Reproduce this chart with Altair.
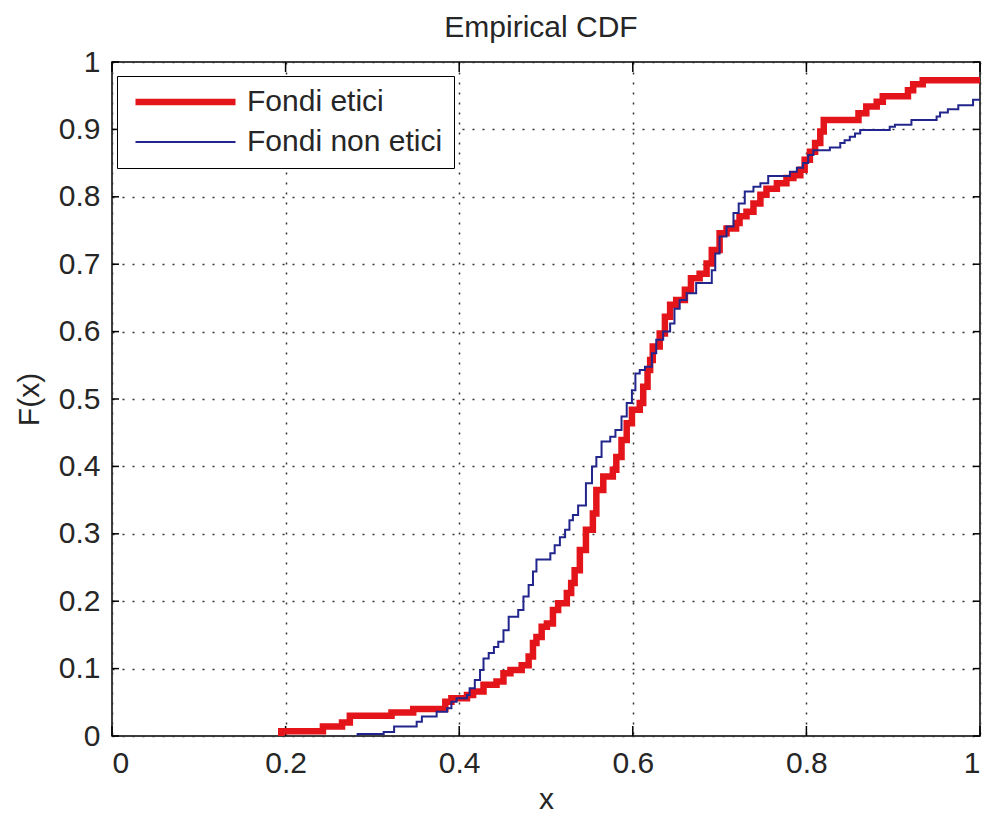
import altair as alt
import pandas as pd

# Step points of the two empirical CDFs: x where the step occurs, F(x) after the step
etici_x = [0.195, 0.195, 0.243, 0.265, 0.274, 0.322, 0.347, 0.384, 0.391, 0.409,
           0.416, 0.428, 0.443, 0.451, 0.459, 0.472, 0.480, 0.485, 0.489, 0.495,
           0.501, 0.508, 0.514, 0.524, 0.529, 0.533, 0.539, 0.546, 0.554, 0.558,
           0.566, 0.577, 0.581, 0.587, 0.593, 0.599, 0.608, 0.612, 0.617, 0.620,
           0.623, 0.631, 0.637, 0.643, 0.650, 0.660, 0.667, 0.677, 0.685, 0.691,
           0.700, 0.708, 0.719, 0.723, 0.731, 0.739, 0.747, 0.754, 0.766, 0.777,
           0.785, 0.793, 0.798, 0.804, 0.810, 0.816, 0.820, 0.860, 0.869, 0.881,
           0.888, 0.917, 0.923, 0.934, 1.000]
etici_f = [0.000, 0.007, 0.014, 0.020, 0.030, 0.035, 0.040, 0.051, 0.056, 0.061,
           0.066, 0.076, 0.081, 0.093, 0.098, 0.105, 0.118, 0.138, 0.147, 0.162,
           0.167, 0.187, 0.197, 0.212, 0.227, 0.246, 0.276, 0.306, 0.330, 0.365,
           0.385, 0.395, 0.414, 0.439, 0.464, 0.484, 0.494, 0.518, 0.543, 0.558,
           0.578, 0.597, 0.622, 0.640, 0.647, 0.662, 0.679, 0.686, 0.701, 0.721,
           0.746, 0.753, 0.761, 0.771, 0.778, 0.790, 0.803, 0.812, 0.820, 0.828,
           0.832, 0.840, 0.855, 0.867, 0.880, 0.897, 0.914, 0.924, 0.934, 0.941,
           0.949, 0.958, 0.967, 0.973, 0.973]

non_etici_x = [0.283, 0.283, 0.313, 0.325, 0.351, 0.357, 0.374, 0.386, 0.391, 0.397,
               0.409, 0.412, 0.418, 0.424, 0.428, 0.434, 0.440, 0.445, 0.451, 0.457,
               0.468, 0.474, 0.480, 0.485, 0.489, 0.505, 0.510, 0.516, 0.522, 0.527,
               0.531, 0.537, 0.546, 0.553, 0.558, 0.564, 0.574, 0.580, 0.587, 0.593,
               0.599, 0.603, 0.608, 0.614, 0.622, 0.627, 0.635, 0.643, 0.648, 0.654,
               0.662, 0.673, 0.691, 0.695, 0.700, 0.708, 0.716, 0.722, 0.729, 0.739,
               0.747, 0.756, 0.781, 0.789, 0.796, 0.802, 0.808, 0.827, 0.839, 0.844,
               0.850, 0.856, 0.862, 0.896, 0.902, 0.921, 0.950, 0.954, 0.963, 0.975,
               0.992, 1.000]
non_etici_f = [0.000, 0.003, 0.006, 0.014, 0.021, 0.029, 0.036, 0.041, 0.051, 0.056,
               0.061, 0.071, 0.083, 0.098, 0.115, 0.123, 0.132, 0.140, 0.157, 0.177,
               0.187, 0.207, 0.224, 0.244, 0.262, 0.271, 0.283, 0.295, 0.306, 0.320,
               0.328, 0.342, 0.375, 0.400, 0.414, 0.437, 0.444, 0.454, 0.474, 0.494,
               0.513, 0.538, 0.543, 0.548, 0.568, 0.588, 0.600, 0.612, 0.634, 0.647,
               0.657, 0.672, 0.691, 0.716, 0.741, 0.756, 0.776, 0.790, 0.808, 0.815,
               0.820, 0.831, 0.837, 0.843, 0.850, 0.862, 0.869, 0.873, 0.880, 0.884,
               0.889, 0.894, 0.899, 0.904, 0.907, 0.914, 0.919, 0.925, 0.930, 0.936,
               0.944, 0.944]

series_names = ["Fondi etici", "Fondi non etici"]
series_colors = ["#e3141a", "#22268c"]
series_widths = [6.5, 2.0]

x_ticks = [0, 0.2, 0.4, 0.6, 0.8, 1]
y_ticks = [0, 0.1, 0.2, 0.3, 0.4, 0.5, 0.6, 0.7, 0.8, 0.9, 1]
chart_title = "Empirical CDF"

FONT = "Liberation Sans"
TEXT = "#262626"
W, H = 868, 674

frames = []
for name, xs, fs in [(series_names[0], etici_x, etici_f),
                     (series_names[1], non_etici_x, non_etici_f)]:
    frames.append(pd.DataFrame({"x": xs, "F": fs, "serie": name,
                                "ord": range(len(xs))}))
df = pd.concat(frames, ignore_index=True)

x_scale = alt.Scale(domain=[0, 1], nice=False, zero=False)
y_scale = alt.Scale(domain=[0, 1], nice=False, zero=False)

legend = alt.Legend(
    orient="none", legendX=5, legendY=14, title=None,
    symbolType="stroke", symbolSize=10000, symbolOffset=4,
    labelFont=FONT, labelFontSize=30, labelColor=TEXT, labelOffset=8,
    labelLimit=0, clipHeight=30,
    strokeColor="black", fillColor="white", padding=11, rowPadding=10,
    cornerRadius=0,
)

lines = alt.Chart(df).mark_line(interpolate="step-after", clip=True).encode(
    x=alt.X("x:Q", scale=x_scale,
            axis=alt.Axis(values=x_ticks, format="~g", labelPadding=12,
                          title="x", titleY=72, titleBaseline="alphabetic")),
    y=alt.Y("F:Q", scale=y_scale,
            axis=alt.Axis(values=y_ticks, format="~g", labelPadding=12,
                          title="F(x)", titleX=-74, titleY=H / 2,
                          titleBaseline="alphabetic", titleAlign="center")),
    color=alt.Color("serie:N",
                    scale=alt.Scale(domain=series_names, range=series_colors),
                    legend=legend),
    strokeWidth=alt.StrokeWidth("serie:N",
                                scale=alt.Scale(domain=series_names, range=series_widths),
                                legend=legend),
    order=alt.Order("ord:Q"),
)

# Inward tick marks on all four sides of the box
xt = pd.DataFrame({"v": x_ticks})
yt = pd.DataFrame({"v": y_ticks})
tick_style = dict(color="black", strokeWidth=1.5)
bottom_ticks = alt.Chart(xt).mark_rule(**tick_style).encode(
    x=alt.X("v:Q", scale=x_scale), y=alt.value(H), y2=alt.value(H - 10))
top_ticks = alt.Chart(xt).mark_rule(**tick_style).encode(
    x=alt.X("v:Q", scale=x_scale), y=alt.value(0), y2=alt.value(10))
left_ticks = alt.Chart(yt).mark_rule(**tick_style).encode(
    y=alt.Y("v:Q", scale=y_scale), x=alt.value(0), x2=alt.value(7))
right_ticks = alt.Chart(yt).mark_rule(**tick_style).encode(
    y=alt.Y("v:Q", scale=y_scale), x=alt.value(W), x2=alt.value(W - 7))

# Chart heading, centred above the box
heading = alt.Chart(pd.DataFrame({"t": [chart_title]})).mark_text(
    font=FONT, fontSize=30, color=TEXT, align="center", baseline="alphabetic",
).encode(text="t:N", x=alt.value(W / 2 - 5), y=alt.value(-25))

chart = alt.layer(
    bottom_ticks, top_ticks, left_ticks, right_ticks, lines, heading
).properties(
    width=W, height=H,
    autosize=alt.AutoSizeParams(type="none"),
    padding={"left": 112, "top": 62, "right": 4, "bottom": 80},
).configure(
    background="white",
).configure_view(
    stroke="black", strokeWidth=1.5,
).configure_axis(
    domain=False, ticks=False, grid=True,
    gridColor="#333333", gridDash=[2, 8], gridWidth=1.5,
    labelFont=FONT, labelFontSize=30, labelColor=TEXT,
    titleFont=FONT, titleFontSize=30, titleFontWeight="normal", titleColor=TEXT,
)

chart.save("out.html", embed_options={"renderer": "svg", "actions": False})
